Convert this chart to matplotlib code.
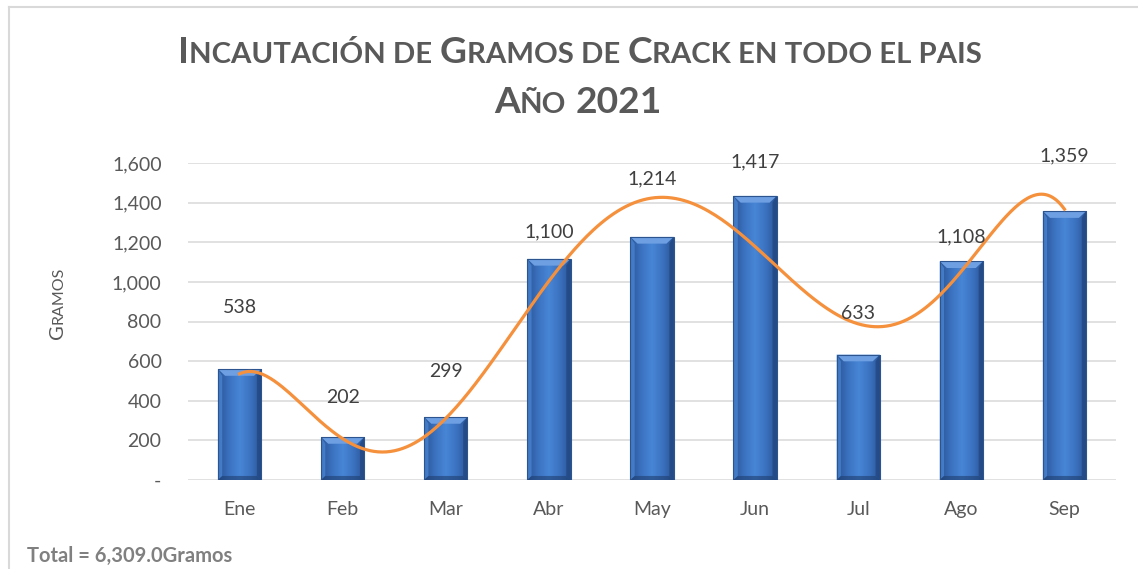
import numpy as np
import matplotlib.pyplot as plt
from matplotlib.colors import LinearSegmentedColormap
from matplotlib.patches import Polygon
from matplotlib.lines import Line2D
from matplotlib.ticker import FuncFormatter

plt.rcParams['font.family'] = ['Lato', 'DejaVu Sans']

# datos
meses = ["Ene", "Feb", "Mar", "Abr", "May", "Jun", "Jul", "Ago", "Sep"]
gramos = [560, 217, 318, 1116, 1227, 1434, 633, 1104, 1357]          # alto de las barras
valores_etiqueta = [538, 202, 299, 1100, 1214, 1417, 633, 1108, 1359]  # texto de las etiquetas
altura_etiqueta = [870, 416, 547, 1250, 1522, 1608, 841, 1229, 1638]   # donde va cada etiqueta
total_texto = "Total = 6,309.0Gramos"

W, H = 1138, 569
fig = plt.figure(figsize=(W / 100, H / 100), dpi=100)
ax = fig.add_axes([188 / W, 1 - 480 / H, (1116 - 188) / W, (480 - 163) / H])

x = np.arange(len(meses))

# barras con degradado y bisel
barras = ax.bar(x, gramos, width=0.42, facecolor='none', edgecolor='#2c5590', lw=0.8, zorder=4)
cmap = LinearSegmentedColormap.from_list("barra", ["#2a5597", "#3b72c0", "#4786d6", "#3b72c0", "#2a5597"])
grad = np.linspace(0, 1, 64).reshape(1, -1)
for rect in barras:
    x0, w, h = rect.get_x(), rect.get_width(), rect.get_height()
    im = ax.imshow(grad, cmap=cmap, extent=[x0, x0 + w, 0, h], aspect='auto',
                   interpolation='bicubic', zorder=2)
    im.set_clip_path(rect)
    dx, dy = 0.07, 34
    ax.add_patch(Polygon([[x0, h], [x0 + w, h], [x0 + w - dx, h - dy], [x0 + dx, h - dy]],
                         facecolor='#6d9fe2', lw=0, zorder=3))
    ax.add_patch(Polygon([[x0, 0], [x0 + dx * 0.6, dy * 0.6], [x0 + dx * 0.6, h - dy], [x0, h]],
                         facecolor='#4c88d6', alpha=0.7, lw=0, zorder=3))
    ax.add_patch(Polygon([[x0 + w, 0], [x0 + w - dx * 0.6, dy * 0.6], [x0 + w - dx * 0.6, h - dy], [x0 + w, h]],
                         facecolor='#22467e', alpha=0.7, lw=0, zorder=3))
    ax.add_patch(Polygon([[x0, 0], [x0 + w, 0], [x0 + w - dx * 0.6, dy * 0.6], [x0 + dx * 0.6, dy * 0.6]],
                         facecolor='#1f3f70', alpha=0.6, lw=0, zorder=3))

# linea de tendencia polinomica
coef = np.polyfit(x, valores_etiqueta, 6)
xs = np.linspace(x[0], x[-1], 400)
ax.plot(xs, np.polyval(coef, xs), color='#f5903d', lw=2.3, zorder=5)

# etiquetas de datos
for xi, v, yl in zip(x, valores_etiqueta, altura_etiqueta):
    ax.text(xi, yl, f"{v:,}", ha='center', va='center', fontsize=14, color='#404040', zorder=6)

ax.set_xlim(-0.5, len(meses) - 0.5)
ax.set_ylim(0, 1600)
ax.set_yticks(np.arange(0, 1601, 200))
ax.yaxis.set_major_formatter(FuncFormatter(lambda v, p: "-" if v == 0 else f"{v:,.0f}"))
ax.set_xticks(x)
ax.set_xticklabels(meses)
ax.tick_params(axis='both', length=0, labelsize=14, labelcolor='#595959')
ax.tick_params(axis='x', pad=15)
ax.tick_params(axis='y', pad=19)
ax.grid(axis='y', color='#d9d9d9', lw=1.1, zorder=0)
ax.set_axisbelow(True)
for s in ax.spines.values():
    s.set_visible(False)

renderer = fig.canvas.get_renderer()


def versalitas(piezas, x0, y0, rot=0, centro=False, **kw):
    # piezas de texto con distintos tamaños, alineadas en la linea base (pixeles)
    textos, largos = [], []
    for s, tam in piezas:
        if s.strip() == "":
            textos.append(None)
            largos.append(0.26 * tam * 100 / 72)
            continue
        t = fig.text(0, 0, s, fontsize=tam, rotation=rot, rotation_mode='anchor',
                     ha='left', va='baseline', **kw)
        bb = t.get_window_extent(renderer)
        textos.append(t)
        largos.append(bb.width if rot == 0 else bb.height)
    pos = x0 - sum(largos) / 2 if centro else (x0 if rot == 0 else y0)
    for t, l in zip(textos, largos):
        if t is not None:
            if rot == 0:
                t.set_position((pos / W, 1 - y0 / H))
            else:
                t.set_position((x0 / W, 1 - pos / H))
        pos += l if rot == 0 else -l


G, C = 26.8, 21.2
versalitas([("I", G), ("NCAUTACIÓN DE", C), (" ", C), ("G", G), ("RAMOS DE", C), (" ", C),
            ("C", G), ("RACK EN TODO EL PAIS", C)], 580, 63, centro=True,
           fontweight='bold', color='#595959')
versalitas([("A", G), ("ÑO", C), (" ", G), ("2021", G)], 578, 113, centro=True,
           fontweight='bold', color='#595959')
versalitas([("G", 14.5), ("RAMOS", 11.5)], 63, 339, rot=90, color='#595959')

fig.text(27 / W, 1 - 562 / H, total_texto, fontsize=14.5, fontweight='bold',
         color='#808080', ha='left', va='baseline')

# marco del grafico
fig.add_artist(Line2D([9 / W, 1], [1 - 7 / H, 1 - 7 / H], color='#d9d9d9', lw=1.5))
fig.add_artist(Line2D([9 / W, 9 / W], [0, 1 - 7 / H], color='#d9d9d9', lw=1.5))

fig.savefig("out.png", dpi=100)
